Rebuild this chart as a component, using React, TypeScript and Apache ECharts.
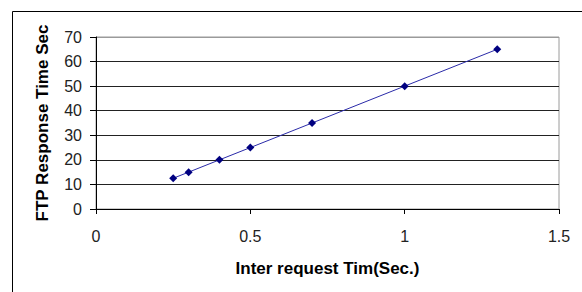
import React, { useEffect, useRef } from "react";
import * as echarts from "echarts";

const xValues = [0.25, 0.3, 0.4, 0.5, 0.7, 1.0, 1.3];
const yValues = [12.5, 15, 20, 25, 35, 50, 65];
const xTitle = "Inter request Tim(Sec.)";
const yTitle = "FTP Response Time Sec";

export default function App() {
  const ref = useRef<HTMLDivElement>(null);
  useEffect(() => {
    document.body.style.margin = "0";
    const chart = echarts.init(ref.current!, null, { renderer: "svg" });
    const font = "'Liberation Sans', Arial, sans-serif";
    chart.setOption({
      animation: false,
      backgroundColor: "#fff",
      textStyle: { fontFamily: font },
      grid: {
        left: 96,
        top: 37,
        width: 463,
        height: 172,
        show: true,
        borderColor: "#9a9a9a",
        borderWidth: 1,
        backgroundColor: "transparent",
      },
      graphic: [
        {
          type: "rect",
          shape: { x: 12.5, y: 11.5, width: 620, height: 300 },
          style: { fill: "none", stroke: "#000", lineWidth: 1 },
          silent: true,
        },
      ],
      xAxis: {
        type: "value",
        min: 0,
        max: 1.5,
        interval: 0.5,
        name: xTitle,
        nameLocation: "middle",
        nameGap: 51,
        nameTextStyle: { fontFamily: font, fontSize: 17, fontWeight: "bold", color: "#000" },
        axisLine: { show: true, onZero: false, lineStyle: { color: "#000", width: 1 } },
        axisTick: { show: true, length: 5, lineStyle: { color: "#000" } },
        axisLabel: { fontFamily: font, fontSize: 16, color: "#222", margin: 19 },
        splitLine: { show: false },
      },
      yAxis: {
        type: "value",
        min: 0,
        max: 70,
        interval: 10,
        name: yTitle,
        nameLocation: "middle",
        nameGap: 45,
        nameTextStyle: { fontFamily: font, fontSize: 17, fontWeight: "bold", color: "#000" },
        axisLine: { show: true, onZero: false, lineStyle: { color: "#000", width: 1 } },
        axisTick: { show: true, length: 6, lineStyle: { color: "#000" } },
        axisLabel: { fontFamily: font, fontSize: 16, color: "#222", margin: 14 },
        splitLine: {
          show: true,
          lineStyle: {
            color: ["#000", "#222", "#222", "#222", "#222", "#222", "#222", "#9a9a9a"],
            width: 1,
          },
        },
      },
      series: [
        {
          type: "line",
          data: xValues.map((x, i) => [x, yValues[i]]),
          symbol: "diamond",
          symbolSize: 8,
          itemStyle: { color: "#000080" },
          lineStyle: { color: "#2a2aa8", width: 1 },
        },
      ],
    });
    return () => chart.dispose();
  }, []);
  return <div ref={ref} style={{ width: 582, height: 292 }} />;
}
